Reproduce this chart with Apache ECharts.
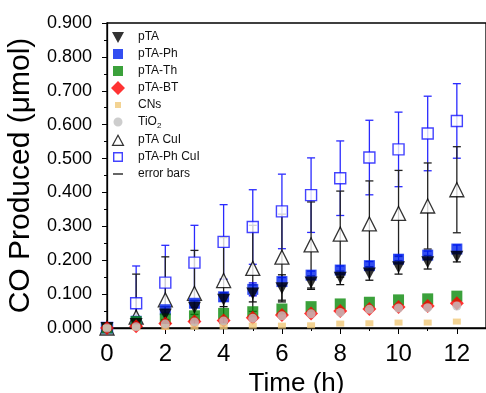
<!DOCTYPE html>
<html>
<head>
<meta charset="utf-8">
<script src="https://cdn.jsdelivr.net/npm/echarts@6/dist/echarts.min.js"></script>
<style>
  html, body { margin: 0; padding: 0; background: #fff; }
  #main { width: 486px; height: 393px; }
</style>
</head>
<body>
<div id="main"></div>
<script>
// time points (h)
var hours = [0, 1, 2, 3, 4, 5, 6, 7, 8, 9, 10, 11, 12];
var yTicks = [0, 0.1, 0.2, 0.3, 0.4, 0.5, 0.6, 0.7, 0.8, 0.9];

// CO produced (umol)
var pTA        = [0, 0.012, 0.040, 0.060, 0.083, 0.102, 0.117, 0.134, 0.148, 0.161, 0.179, 0.194, 0.210];
var pTAErr     = [0, 0.005, 0.015, 0.020, 0.020, 0.025, 0.040, 0.020, 0.020, 0.020, 0.020, 0.020, 0.015];
var pTAPh      = [0, 0.020, 0.054, 0.073, 0.092, 0.114, 0.137, 0.156, 0.171, 0.184, 0.203, 0.215, 0.233];
var pTAPhErr   = [0, 0.005, 0.010, 0.012, 0.012, 0.019, 0.012, 0.012, 0.012, 0.012, 0.012, 0.012, 0.012];
var pTATh      = [0, 0.019, 0.027, 0.036, 0.043, 0.048, 0.056, 0.063, 0.071, 0.076, 0.083, 0.086, 0.094];
var pTABT      = [0, 0.005, 0.013, 0.019, 0.022, 0.030, 0.038, 0.043, 0.050, 0.056, 0.062, 0.065, 0.073];
var CNs        = [0, 0.002, 0.003, 0.004, 0.005, 0.007, 0.007, 0.008, 0.013, 0.014, 0.016, 0.016, 0.019];
var TiO2       = [0, 0.004, 0.012, 0.018, 0.021, 0.029, 0.036, 0.042, 0.046, 0.055, 0.059, 0.060, 0.065];
var pTACuI     = [0, 0.032, 0.083, 0.102, 0.140, 0.176, 0.209, 0.245, 0.277, 0.307, 0.338, 0.360, 0.408];
var pTACuIErr  = [0, 0.127, 0.127, 0.127, 0.127, 0.127, 0.127, 0.127, 0.127, 0.127, 0.127, 0.127, 0.127];
var pTAPhCuI   = [0, 0.073, 0.134, 0.193, 0.254, 0.298, 0.344, 0.392, 0.442, 0.503, 0.527, 0.574, 0.611];
var pTAPhCuIErr= [0, 0.110, 0.110, 0.110, 0.110, 0.110, 0.110, 0.110, 0.110, 0.110, 0.110, 0.110, 0.110];

function pts(vals) {
  return hours.map(function (h, i) { return [h, vals[i]]; });
}
function errPts(vals, errs) {
  return hours.map(function (h, i) { return [h, vals[i], errs[i]]; });
}

function errSeries(id, vals, errs, color) {
  return {
    type: 'custom',
    id: id,
    silent: true,
    clip: true,
    data: errPts(vals, errs),
    renderItem: function (params, api) {
      var x = api.value(0), v = api.value(1), e = api.value(2);
      if (!e) return;
      var top = api.coord([x, v + e]);
      var bot = api.coord([x, Math.max(0, v - e)]);
      var cap = 4;
      var st = { stroke: color, lineWidth: 1.3 };
      var kids = [
        { type: 'line', shape: { x1: top[0], y1: top[1], x2: bot[0], y2: bot[1] }, style: st },
        { type: 'line', shape: { x1: top[0] - cap, y1: top[1], x2: top[0] + cap, y2: top[1] }, style: st }
      ];
      if (v - e > 0) {
        kids.push({ type: 'line', shape: { x1: bot[0] - cap, y1: bot[1], x2: bot[0] + cap, y2: bot[1] }, style: st });
      }
      return { type: 'group', children: kids };
    },
    z: 1
  };
}

function scatter(name, vals, symbol, size, style, z) {
  return {
    type: 'scatter',
    name: name,
    data: pts(vals),
    symbol: symbol,
    symbolSize: size,
    itemStyle: style,
    z: z
  };
}

var downTri = 'path://M0,0L10,0L5,9Z';

// legend icons drawn in a 14x14 box (tiny corner marks fix the box size)
var box = 'M0,0L0.01,0L0,0.01Z M14,14L13.99,14L14,13.99Z ';
function icon(p) { return 'path://' + box + p; }

var chart = echarts.init(document.getElementById('main'));

chart.setOption({
  animation: false,
  backgroundColor: '#fff',
  grid: {
    left: 107, top: 23, right: 0, bottom: 65, outerBoundsMode: 'none',
    show: true, borderColor: '#000', borderWidth: 1.3
  },
  legend: {
    orient: 'vertical',
    left: 106,
    top: 25,
    itemWidth: 30,
    itemHeight: 14,
    itemGap: 3,
    selectedMode: false,
    textStyle: {
      fontFamily: 'Arial, Liberation Sans',
      fontSize: 12,
      color: '#111',
      rich: { sub: { fontSize: 8, verticalAlign: 'bottom', padding: [8, 0, 0, 0] } }
    },
    formatter: function (n) { return n === 'TiO2' ? 'TiO{sub|2}' : n; },
    data: [
      { name: 'pTA', icon: icon('M1,2L13,2L7,13Z'), itemStyle: { color: '#000', borderWidth: 0 } },
      { name: 'pTA-Ph', icon: icon('M2,2H12V12H2Z'), itemStyle: { color: '#0022ee', borderWidth: 0 } },
      { name: 'pTA-Th', icon: icon('M2,2H12V12H2Z'), itemStyle: { color: '#0a8a0a', borderWidth: 0 } },
      { name: 'pTA-BT', icon: icon('M7,0L14,7L7,14L0,7Z'), itemStyle: { color: '#ff0000', borderWidth: 0 } },
      { name: 'CNs', icon: icon('M4,4H10V10H4Z'), itemStyle: { color: '#f0c878', borderWidth: 0 } },
      { name: 'TiO2', icon: icon('M11.5,7A4.5,4.5 0 1,1 2.5,7A4.5,4.5 0 1,1 11.5,7Z'), itemStyle: { color: '#c0c0c0', borderWidth: 0 } },
      { name: 'pTA CuI', icon: icon('M7,1L13.5,13L0.5,13Z M7,3.6L2.6,11.8L11.4,11.8Z'), itemStyle: { color: '#000', borderWidth: 0 } },
      { name: 'pTA-Ph CuI', icon: icon('M2,2H12V12H2Z M3.4,3.4V10.6H10.6V3.4Z'), itemStyle: { color: '#1414ff', borderWidth: 0 } },
      { name: 'error bars', icon: icon('M2,6.3H12V7.7H2Z'), itemStyle: { color: '#000', borderWidth: 0 } }
    ]
  },
  xAxis: {
    type: 'value',
    min: 0, max: 13, interval: 2,
    name: 'Time (h)',
    nameLocation: 'middle',
    nameGap: 32,
    nameTextStyle: { fontFamily: 'Arial, Liberation Sans', fontSize: 26, color: '#000' },
    axisLine: { show: true, lineStyle: { color: '#000', width: 1.3 } },
    axisTick: { show: true, inside: false, length: 6, lineStyle: { color: '#000' } },
    minorTick: { show: true, splitNumber: 2, length: 3, lineStyle: { color: '#000' } },
    axisLabel: {
      fontFamily: 'Arial, Liberation Sans', fontSize: 24, color: '#000', margin: 14,
      formatter: function (v) { return v > 12 ? '' : v; }
    },
    splitLine: { show: false }
  },
  yAxis: {
    type: 'value',
    min: yTicks[0], max: yTicks[yTicks.length - 1], interval: 0.1,
    name: 'CO Produced (\u03bcmol)',
    nameLocation: 'middle',
    nameGap: 71,
    nameTextStyle: { fontFamily: 'Arial, Liberation Sans', fontSize: 30, color: '#000' },
    axisLine: { show: true, lineStyle: { color: '#000', width: 1.3 } },
    axisTick: { show: true, inside: false, length: 5, lineStyle: { color: '#000' } },
    minorTick: { show: true, splitNumber: 2, length: 3, lineStyle: { color: '#000' } },
    axisLabel: {
      fontFamily: 'Arial, Liberation Sans', fontSize: 18, color: '#000', margin: 15,
      formatter: function (v) { return v.toFixed(3); }
    },
    splitLine: { show: false }
  },
  series: [
    errSeries('errPhCuI', pTAPhCuI, pTAPhCuIErr, '#2a2aff'),
    errSeries('errCuI', pTACuI, pTACuIErr, '#222'),
    errSeries('errPh', pTAPh, pTAPhErr, '#0000ee'),
    errSeries('errPTA', pTA, pTAErr, '#111'),
    scatter('pTA-Ph CuI', pTAPhCuI, 'rect', 11, { color: '#fff', borderColor: '#1414ff', borderWidth: 1.4 }, 3),
    scatter('pTA CuI', pTACuI, 'triangle', 14, { color: '#fff', borderColor: '#000', borderWidth: 1.3 }, 3),
    scatter('pTA-Ph', pTAPh, 'rect', 11, { color: '#0022ee' }, 4),
    scatter('pTA', pTA, downTri, [13, 12], { color: '#000' }, 5),
    scatter('pTA-Th', pTATh, 'rect', 11, { color: '#0a8a0a' }, 4),
    scatter('pTA-BT', pTABT, 'diamond', 14, { color: '#ff0000' }, 5),
    scatter('CNs', CNs, 'rect', [8, 6], { color: '#f0c878' }, 5),
    scatter('TiO2', TiO2, 'circle', 9, { color: '#c0c0c0' }, 6),
    { type: 'scatter', name: 'error bars', data: [], itemStyle: { color: '#000' } }
  ]
});
</script>
</body>
</html>
